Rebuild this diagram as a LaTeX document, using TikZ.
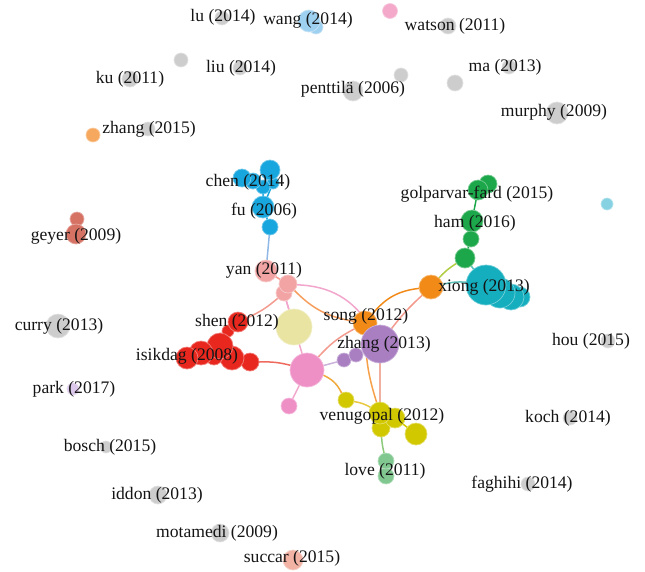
\documentclass[tikz,border=0pt]{standalone}
\usepackage{fontspec}
\setmainfont{Liberation Serif}
\usetikzlibrary{backgrounds}
\definecolor{cgray}{HTML}{CDCDCD}
\definecolor{clblue}{HTML}{9ED0F0}
\definecolor{cpinktop}{HTML}{F4A8CA}
\definecolor{corange}{HTML}{F28A18}
\definecolor{clorange}{HTML}{F6A85E}
\definecolor{cblue}{HTML}{18A6DE}
\definecolor{cbrown}{HTML}{D67264}
\definecolor{cgreen}{HTML}{1CA84A}
\definecolor{ccyan}{HTML}{14AEBE}
\definecolor{clcyan}{HTML}{86D2E2}
\definecolor{cyan2}{HTML}{F2A4A4}
\definecolor{cred}{HTML}{E8281E}
\definecolor{cpale}{HTML}{E9E4A2}
\definecolor{cpurple}{HTML}{A97FC2}
\definecolor{cpink}{HTML}{EE90C6}
\definecolor{cyellow}{HTML}{D2C800}
\definecolor{clgreen}{HTML}{80C890}
\definecolor{clpurple}{HTML}{DCC8EA}
\definecolor{csalmon}{HTML}{F2B2A4}
\definecolor{eblue}{HTML}{8FB8E6}
\definecolor{esalmon}{HTML}{F39B8E}
\definecolor{epink}{HTML}{F2A6CC}
\definecolor{eorange}{HTML}{F7A04A}
\definecolor{eyel}{HTML}{E8C840}
\definecolor{egreen}{HTML}{8CCB7C}
\definecolor{eyg}{HTML}{B0CC40}
\definecolor{eteal}{HTML}{5BC0B8}
\definecolor{ered}{HTML}{EE6A5E}
\newcommand\ball[5]{\node[ball=#5, minimum size=#4pt] (#1) at (#2,#3) {};}
\begin{document}
\begin{tikzpicture}[x=1pt,y=-1pt,
  ball/.style={circle, inner sep=0pt, outer sep=0pt, fill=#1, draw=#1!60!white, line width=0.7pt},
  lab/.style={inner sep=0pt, text=black!92, font=\fontsize{17.6}{17.6}\selectfont},
  edge/.style={draw=#1, line width=1.5pt}]
\useasboundingbox (0,0) rectangle (645,571);
% isolated nodes
\ball{lu}{222}{18}{14}{cgray}
\ball{wangB}{316}{27}{14}{clblue}
\ball{wangA}{309}{21}{22}{clblue}
\ball{pinktop}{390}{11}{15}{cpinktop}
\ball{watson}{448}{26}{16}{cgray}
\ball{gA}{181}{60}{14}{cgray}
\ball{liu}{240}{68}{14}{cgray}
\ball{ku}{130}{79}{16}{cgray}
\ball{gB}{401}{75}{14}{cgray}
\ball{ma}{509}{67}{14}{cgray}
\ball{gC}{455}{83}{16}{cgray}
\ball{pent}{353}{91}{20}{cgray}
\ball{murphy}{557}{113}{22}{cgray}
\ball{zhO}{93}{135}{14}{clorange}
\ball{zhG}{148}{129}{14}{cgray}
\ball{cyanIso}{607}{204}{12}{clcyan}
\ball{curry}{58}{326}{24}{cgray}
\ball{park}{73}{389}{12}{clpurple}
\ball{hou}{608}{341}{14}{cgray}
\ball{koch}{570}{418}{14}{cgray}
\ball{bosch}{106}{447}{12}{cgray}
\ball{fag}{528}{484}{14}{cgray}
\ball{iddon}{158}{495}{18}{cgray}
\ball{mota}{220}{533}{18}{cgray}
\ball{succar}{293}{560}{20}{csalmon}
% geyer
\ball{geyA}{77}{219}{14}{cbrown}
\ball{geyB}{76}{234}{20}{cbrown}
% blue cluster
\ball{chenE}{273}{183}{12}{cblue}
\ball{chenD}{263}{187}{14}{cblue}
\ball{chenC}{270}{170}{20}{cblue}
\ball{chenB}{253}{181}{16}{cblue}
\ball{chenA}{242}{178}{18}{cblue}
\ball{fuA}{263}{207}{22}{cblue}
\ball{fuB}{270}{227}{16}{cblue}
% green
\ball{golB}{488}{184}{18}{cgreen}
\ball{golA}{478}{190}{20}{cgreen}
\ball{hamA}{472}{221}{22}{cgreen}
\ball{hamB}{471}{239}{16}{cgreen}
\ball{grC}{465}{258}{20}{cgreen}
% cyan
\ball{cyD}{520}{297}{20}{ccyan}
\ball{cyC}{511}{297}{26}{ccyan}
\ball{cyB}{500}{293}{30}{ccyan}
\ball{cyA}{486}{285}{40}{ccyan}
\ball{xiong}{431}{287}{24}{corange}
% yan
\ball{yanC}{284}{293}{16}{cyan2}
\ball{yanB}{288}{284}{18}{cyan2}
\ball{yanA}{266}{271}{22}{cyan2}
% red
\ball{shenC}{221}{338}{10}{cred}
\ball{shenB}{228}{331}{12}{cred}
\ball{shenA}{238}{322}{20}{cred}
\ball{isE}{250}{362}{18}{cred}
\ball{isD}{232}{358}{24}{cred}
\ball{isF}{214}{356}{18}{cred}
\ball{isC}{220}{346}{26}{cred}
\ball{isB}{201}{353}{24}{cred}
\ball{isA}{187}{358}{22}{cred}
% center
\ball{yBig}{294}{327}{36}{cpale}
\ball{song}{365}{323}{24}{corange}
\ball{puB}{344}{360}{14}{cpurple}
\ball{puA}{356}{355}{14}{cpurple}
\ball{zBig}{380}{344}{38}{cpurple}
\ball{pBig}{307}{370}{34}{cpink}
\ball{pSm}{289}{406}{16}{cpink}
\ball{ySm}{346}{400}{16}{cyellow}
\ball{venC}{381}{428}{18}{cyellow}
\ball{venB}{395}{418}{20}{cyellow}
\ball{venA}{380}{413}{22}{cyellow}
\ball{yR}{416}{434}{22}{cyellow}
\ball{loveB}{386}{476}{16}{clgreen}
\ball{loveA}{386}{461}{16}{clgreen}
% edges
\begin{scope}[on background layer]
\draw[edge=cblue] (chenA) -- (chenB) -- (chenD) -- (fuA) (chenC) -- (chenD) (chenE) -- (fuA) -- (fuB);
\draw[edge=eblue] (fuB) -- (yanA);
\draw[edge=esalmon] (yanA) -- (yanB) -- (yanC);
\draw[edge=esalmon] (yanC) to[bend left=8] (shenA);
\draw[edge=epink] (yanC) -- (yBig);
\draw[edge=epink] (yanC) -- (pBig);
\draw[edge=eorange!70!esalmon] (yanB) to[bend right=18] (song);
\draw[edge=epink] (yanB) to[bend left=28] (zBig);
\draw[edge=cred] (shenA) -- (shenB) -- (shenC) -- (isC) (isA) -- (isB) -- (isC) -- (isD) -- (isE);
\draw[edge=ered] (isE) to[bend left=8] (pBig);
\draw[edge=esalmon] (pBig) to[bend left=10] (song);
\draw[edge=cpurple!60!white] (pBig) -- (puB) -- (puA) -- (zBig);
\draw[edge=epink] (pBig) -- (pSm);
\draw[edge=eorange!80!cyellow] (pBig) to[bend left=20] (ySm);
\draw[edge=eyel] (ySm) to[bend left=10] (venA);
\draw[edge=corange] (song) to[bend left=22] (xiong);
\draw[edge=esalmon] (zBig) to[bend left=5] (xiong);
\draw[edge=eorange] (song) to[bend right=8] (venA);
\draw[edge=epink!70!eyel] (zBig) -- (venA);
\draw[edge=cyellow] (venA) -- (venB) -- (yR) (venA) -- (venC);
\draw[edge=egreen] (venC) to[bend right=5] (loveA);
\draw[edge=clgreen] (loveA) -- (loveB);
\draw[edge=eyg] (xiong) to[bend left=8] (grC);
\draw[edge=cgreen] (grC) -- (hamB) -- (hamA) -- (golA) -- (golB);
\draw[edge=eteal] (grC) -- (cyA);
\draw[edge=eteal] (xiong) to[bend left=10] (cyA);
\draw[edge=cgreen] (cyA) -- (cyB) -- (cyC) -- (cyD);
\draw[edge=cbrown] (geyA) -- (geyB);
\draw[edge=clblue] (wangA) -- (wangB);
\end{scope}
% labels
\node[lab] (t1) at (223,17) {lu (2014)};
\node[lab] (t2) at (308,20) {wang (2014)};
\node[lab] (t3) at (455,26) {watson (2011)};
\node[lab] (t4) at (241,68) {liu (2014)};
\node[lab] (t5) at (130,79) {ku (2011)};
\node[lab] (t6) at (505,67) {ma (2013)};
\node[lab] (t7) at (353,89) {penttilä (2006)};
\node[lab] (t8) at (554,112) {murphy (2009)};
\node[lab] (t9) at (149,129) {zhang (2015)};
\node[lab] (t10) at (248,182) {chen (2014)};
\node[lab] (t11) at (264,211) {fu (2006)};
\node[lab] (t12) at (76,236) {geyer (2009)};
\node[lab] (t13) at (477,194) {golparvar-fard (2015)};
\node[lab] (t14) at (475,223) {ham (2016)};
\node[lab] (t15) at (264,270) {yan (2011)};
\node[lab] (t16) at (484,287) {xiong (2013)};
\node[lab] (t17) at (59,326) {curry (2013)};
\node[lab] (t18) at (237,322) {shen (2012)};
\node[lab] (t19) at (366,316) {song (2012)};
\node[lab] (t20) at (384,344) {zhang (2013)};
\node[lab] (t21) at (187,356) {isikdag (2008)};
\node[lab] (t22) at (74,389) {park (2017)};
\node[lab] (t23) at (382,416) {venugopal (2012)};
\node[lab] (t24) at (591,341) {hou (2015)};
\node[lab] (t25) at (568,418) {koch (2014)};
\node[lab] (t26) at (110,447) {bosch (2015)};
\node[lab] (t27) at (385,471) {love (2011)};
\node[lab] (t28) at (522,484) {faghihi (2014)};
\node[lab] (t29) at (157,495) {iddon (2013)};
\node[lab] (t30) at (217,533) {motamedi (2009)};
\node[lab] (t31) at (292,558) {succar (2015)};
\end{tikzpicture}
\end{document}
